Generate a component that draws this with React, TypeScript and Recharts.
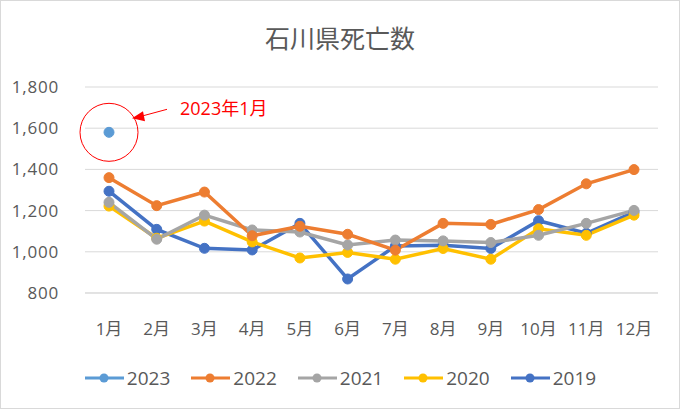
import React from "react";
import {
  CartesianGrid,
  Legend,
  Line,
  LineChart,
  ReferenceDot,
  XAxis,
  YAxis,
} from "recharts";

const months = ["1月", "2月", "3月", "4月", "5月", "6月", "7月", "8月", "9月", "10月", "11月", "12月"];
const y2023 = [1580, null, null, null, null, null, null, null, null, null, null, null];
const y2022 = [1360, 1224, 1290, 1078, 1124, 1085, 1008, 1138, 1133, 1205, 1330, 1399];
const y2021 = [1240, 1061, 1178, 1106, 1096, 1033, 1057, 1053, 1045, 1080, 1138, 1201];
const y2020 = [1222, 1066, 1149, 1048, 970, 997, 964, 1016, 964, 1112, 1080, 1178];
const y2019 = [1294, 1109, 1017, 1009, 1138, 868, 1028, 1032, 1016, 1151, 1090, 1193];
const yTicks = [800, 1000, 1200, 1400, 1600, 1800];

const series = [
  { key: "2023", values: y2023, color: "#5B9BD5" },
  { key: "2022", values: y2022, color: "#ED7D31" },
  { key: "2021", values: y2021, color: "#A5A5A5" },
  { key: "2020", values: y2020, color: "#FFC000" },
  { key: "2019", values: y2019, color: "#4472C4" },
];

const data = months.map((m, i) => {
  const row: Record<string, string | number | null> = { month: m };
  series.forEach((s) => {
    row[s.key] = s.values[i];
  });
  return row;
});

const FONT = "'Open Sans', 'Noto Sans CJK JP', sans-serif";
const TEXT = "#595959";

// red circle + arrow + label around the 2023 point
function Callout(props: any) {
  const { cx, cy } = props;
  if (cx == null || cy == null) return null;
  return (
    <g>
      <circle cx={cx} cy={cy} r={29} fill="none" stroke="#FF0000" strokeWidth={1} />
      <line x1={cx + 58} y1={cy - 23} x2={cx + 32} y2={cy - 16} stroke="#FF0000" strokeWidth={1} />
      <polygon
        points={`${cx + 23},${cy - 14} ${cx + 34},${cy - 21} ${cx + 36},${cy - 11}`}
        fill="#FF0000"
      />
      <text x={cx + 71} y={cy - 17} fill="#FF0000" fontSize={18} fontFamily={FONT}>
        2023年1月
      </text>
    </g>
  );
}

function LegendContent() {
  return (
    <div
      style={{
        display: "flex",
        justifyContent: "center",
        gap: 20,
        paddingLeft: 21,
        fontFamily: FONT,
      }}
    >
      {series.map((s) => (
        <div key={s.key} style={{ display: "flex", alignItems: "center" }}>
          <svg width={41} height={12}>
            <line x1={1} y1={6} x2={40} y2={6} stroke={s.color} strokeWidth={3} />
            <circle cx={20} cy={6} r={4.5} fill={s.color} />
          </svg>
          <span style={{ fontSize: 19, color: TEXT, marginLeft: 2, lineHeight: "22px" }}>{s.key}</span>
        </div>
      ))}
    </div>
  );
}

export default function App() {
  return (
    <div
      style={{
        position: "absolute",
        left: 0,
        top: 0,
        width: 678,
        height: 407,
        border: "1px solid #D9D9D9",
        background: "#fff",
        fontFamily: FONT,
      }}
    >
      <div
        style={{
          position: "absolute",
          top: 21,
          width: "100%",
          textAlign: "center",
          fontSize: 25,
          lineHeight: "32px",
          color: TEXT,
        }}
      >
        石川県死亡数
      </div>
      <LineChart
        width={678}
        height={407}
        data={data}
        margin={{ top: 86, right: 21, left: 0, bottom: 37 }}
      >
        <CartesianGrid vertical={false} stroke="#D9D9D9" />
        <XAxis
          dataKey="month"
          axisLine={{ stroke: "#D9D9D9" }}
          tickLine={false}
          tickMargin={24}
          padding={{ left: 24, right: 24 }}
          tick={{ fill: TEXT, fontSize: 17, fontFamily: FONT }}
          interval={0}
          height={56}
        />
        <YAxis
          domain={[800, 1800]}
          ticks={yTicks}
          axisLine={false}
          tickLine={false}
          width={84}
          tickMargin={20}
          tickFormatter={(v: number) => v.toLocaleString("en-US")}
          tick={{ fill: TEXT, fontSize: 17, fontFamily: FONT, letterSpacing: 0.8 }}
        />
        <Legend verticalAlign="bottom" content={<LegendContent />} wrapperStyle={{ bottom: 19 }} />
        {series
          .slice()
          .reverse()
          .map((s) => (
            <Line
              key={s.key}
              dataKey={s.key}
              stroke={s.color}
              strokeWidth={3.5}
              dot={{ r: 5, fill: s.color, stroke: s.color, strokeWidth: 1 }}
              activeDot={false}
              isAnimationActive={false}
              connectNulls={false}
            />
          ))}
        <ReferenceDot x="1月" y={1580} r={29} shape={<Callout />} />
      </LineChart>
    </div>
  );
}
